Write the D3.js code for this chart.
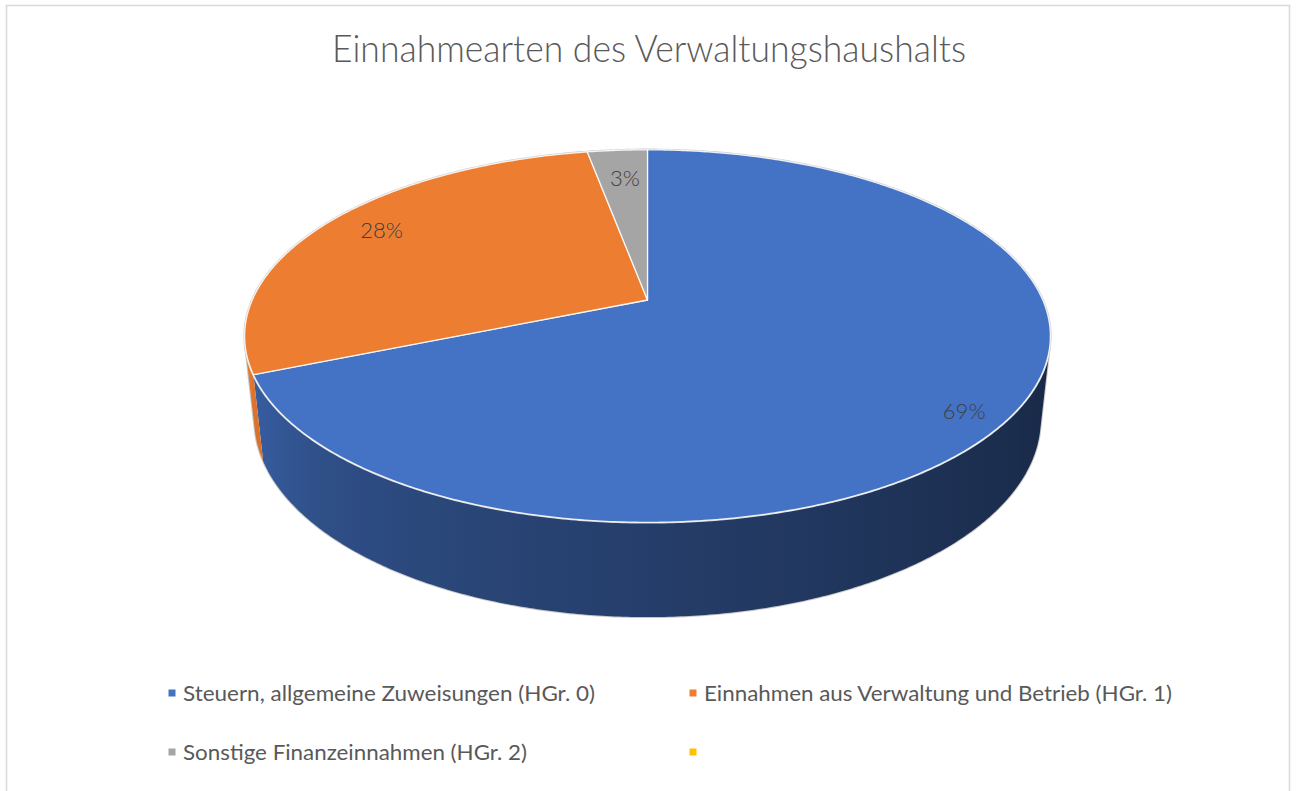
<!DOCTYPE html>
<html>
<head>
<meta charset="utf-8">
<script src="https://cdn.jsdelivr.net/npm/d3@7"></script>
<style>
  body { margin: 0; background: #fff; }
  svg { display: block; }
  text { font-family: Lato, "Open Sans", sans-serif; }
</style>
</head>
<body>
<svg id="chart"></svg>
<script>
const title = "Einnahmearten des Verwaltungshaushalts";
const categories = [
    "Steuern, allgemeine Zuweisungen (HGr. 0)",
    "Einnahmen aus Verwaltung und Betrieb (HGr. 1)",
    "Sonstige Finanzeinnahmen (HGr. 2)",
    ""
];
const values = [68.7, 28.4, 2.9, 0];
const colors = ["#4472c4", "#ed7d31", "#a5a5a5", "#ffc000"];

const width = 1298, height = 791;

const svg = d3.select("#chart")
    .attr("width", width)
    .attr("height", height);
const defs = svg.append("defs");

// chart border
svg.append("rect")
    .attr("x", 6.5).attr("y", 5.5)
    .attr("width", 1283).attr("height", 820)
    .attr("fill", "none")
    .attr("stroke", "#d9d9d9")
    .attr("stroke-width", 1.5);

svg.append("text")
    .attr("x", 649).attr("y", 62)
    .attr("text-anchor", "middle")
    .attr("font-size", 37)
    .attr("font-weight", 300)
    .attr("fill", "#595959")
    .attr("textLength", 634)
    .attr("lengthAdjust", "spacingAndGlyphs")
    .text(title);

// simple perspective camera looking down on a unit disc
const cam = { cx: 647.5, cy: 300, f: 1818, dist: 4.6, tilt: 0.4708, thick: 0.238 };
const sT = Math.sin(cam.tilt), cT = Math.cos(cam.tilt);

function project(u, y, v) {
    const depth = cam.dist + v * cT - y * sT;
    const up = y * cT + v * sT;
    return [cam.cx + cam.f * u / depth, cam.cy - cam.f * up / depth];
}
const rim = (a, y, r = 1) => project(r * Math.sin(a), y, r * Math.cos(a));

const data = categories.map((c, i) => ({ name: c, value: values[i], color: colors[i] }));
const arcs = d3.pie().sort(null).value(d => d.value)(data).filter(d => d.value > 0);
const total = d3.sum(values);

const step = Math.PI / 360;
function rimPoints(a0, a1, y) {
    const n = Math.max(2, Math.ceil((a1 - a0) / step));
    return d3.range(n + 1).map(i => rim(a0 + (a1 - a0) * i / n, y));
}

// walls: only the part that faces the camera
const visA0 = Math.acos(-1 / (cam.dist * cT));
const visA1 = 2 * Math.PI - visA0;
const shade = d3.scaleLinear()
    .domain([visA0, 2.4, Math.PI, 3.9, visA1])
    .range([0.36, 0.42, 0.54, 0.68, 0.86]);

const line = d3.line();
const walls = svg.append("g");

// faint outline around the body
const outline = rimPoints(visA0, visA1, 0)
    .concat(rimPoints(visA0, visA1, -cam.thick).reverse());
walls.append("path")
    .attr("d", line(outline) + "Z")
    .attr("fill", "none")
    .attr("stroke", "#c8c8c8")
    .attr("stroke-width", 2);

arcs.forEach((d, i) => {
    const a0 = Math.max(d.startAngle, visA0);
    const a1 = Math.min(d.endAngle, visA1);
    if (a1 <= a0) return;
    const base = d3.rgb(d.data.color);
    const top = rimPoints(a0, a1, 0);
    const bottom = rimPoints(a0, a1, -cam.thick);
    const xs = top.concat(bottom).map(p => p[0]);
    const x0 = d3.min(xs), x1 = d3.max(xs);
    const grad = defs.append("linearGradient")
        .attr("id", "wall" + i)
        .attr("gradientUnits", "userSpaceOnUse")
        .attr("x1", x0).attr("x2", x1)
        .attr("y1", 0).attr("y2", 0);
    const n = Math.ceil((a1 - a0) / (Math.PI / 90));
    const stops = d3.range(n + 1).map(j => {
        const a = a0 + (a1 - a0) * j / n;
        const k = shade(a) * (i === 0 ? 1 : 1.12);
        return {
            off: (rim(a, -cam.thick / 2)[0] - x0) / (x1 - x0),
            col: d3.rgb(Math.min(255, base.r * k), Math.min(255, base.g * k), Math.min(255, base.b * k)).formatHex()
        };
    }).sort((p, q) => p.off - q.off);
    grad.selectAll("stop").data(stops).join("stop")
        .attr("offset", s => Math.max(0, Math.min(1, s.off)))
        .attr("stop-color", s => s.col);
    walls.append("path")
        .attr("d", line(top.concat(bottom.reverse())) + "Z")
        .attr("fill", `url(#wall${i})`);
});

// top face
svg.append("path")
    .attr("d", line(rimPoints(0, 2 * Math.PI, 0)) + "Z")
    .attr("fill", "none")
    .attr("stroke", "#d0d0d0")
    .attr("stroke-width", 2.5);

const apex = project(0, 0, 0);
svg.append("g").selectAll("path")
    .data(arcs)
    .join("path")
    .attr("d", d => line([apex].concat(rimPoints(d.startAngle, d.endAngle, 0))) + "Z")
    .attr("fill", d => d.data.color)
    .attr("stroke", "#ffffff")
    .attr("stroke-opacity", 0.85)
    .attr("stroke-width", 1.3)
    .attr("stroke-linejoin", "round");

// data labels, nudged the way the original places them
const labelNudge = [[5, 17], [11, -2], [4, 10]];
svg.append("g").selectAll("text")
    .data(arcs)
    .join("text")
    .attr("transform", (d, i) => {
        const p = rim((d.startAngle + d.endAngle) / 2, 0, 0.86);
        return `translate(${p[0] + labelNudge[i][0]},${p[1] + labelNudge[i][1]})`;
    })
    .attr("text-anchor", "middle")
    .attr("dy", "0.35em")
    .attr("font-size", 22)
    .attr("font-weight", 300)
    .attr("fill", "#404040")
    .text(d => Math.round(d.value / total * 100) + "%");

// legend
const legendX = [172, 693];
const legendY = [693, 752];
const legendLen = [412, 468, 344, 0];
const legend = svg.append("g").selectAll("g")
    .data(data)
    .join("g")
    .attr("transform", (d, i) => `translate(${legendX[i % 2]},${legendY[Math.floor(i / 2)]})`);

legend.append("rect")
    .attr("x", -3.5).attr("y", -3.5)
    .attr("width", 7).attr("height", 7)
    .attr("fill", d => d.color);

legend.filter(d => d.name !== "")
    .append("text")
    .attr("x", 11)
    .attr("dy", "0.36em")
    .attr("font-size", 22)
    .attr("fill", "#595959")
    .attr("textLength", (d, i) => legendLen[i])
    .attr("lengthAdjust", "spacingAndGlyphs")
    .text(d => d.name);
</script>
</body>
</html>
